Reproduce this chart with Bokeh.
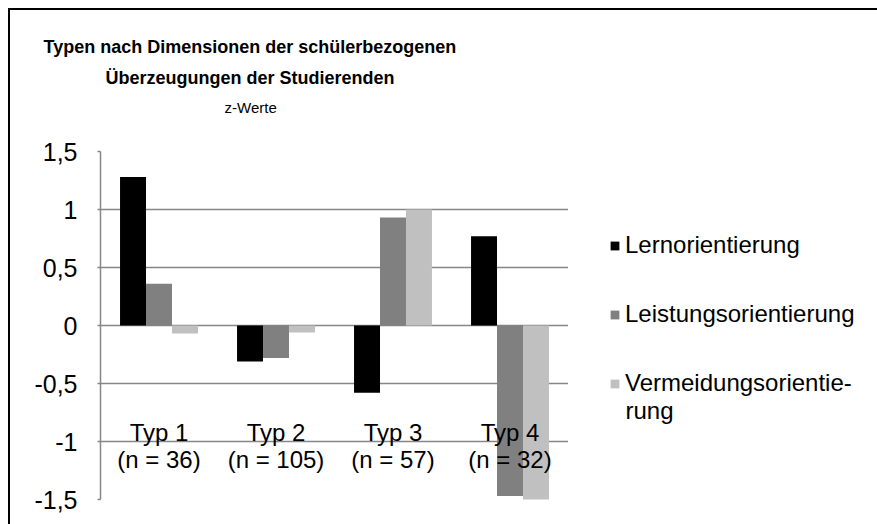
from bokeh.plotting import figure
from bokeh.layouts import row
from bokeh.models import (ColumnDataSource, FactorRange, Legend, LegendItem, Title, Label,
                          FixedTicker, Range1d)
from bokeh.transform import dodge
from bokeh.core.properties import value
from bokeh.embed import file_html
from bokeh.resources import INLINE

# ---- data ----
types = ["Typ 1", "Typ 2", "Typ 3", "Typ 4"]
n_labels = ["(n = 36)", "(n = 105)", "(n = 57)", "(n = 32)"]
lern = [1.28, -0.31, -0.58, 0.77]
leist = [0.36, -0.28, 0.93, -1.47]
verm = [-0.07, -0.06, 1.0, -1.52]
series_names = ["Lernorientierung", "Leistungsorientierung", "Vermeidungsorientie-"]
series_cont = "rung"
colors = ["#000000", "#808080", "#c0c0c0"]
y_ticks = [-1.5, -1, -0.5, 0, 0.5, 1, 1.5]
y_tick_labels = ["-1,5", "-1", "-0,5", "0", "0,5", "1", "1,5"]
title_lines = ["Typen nach Dimensionen der schülerbezogenen", "Überzeugungen der Studierenden"]
subtitle = "z-Werte"

FONT = "Liberation Sans"

src = ColumnDataSource(dict(types=types, n=n_labels, lern=lern, leist=leist, verm=verm))

H = 514
p = figure(x_range=FactorRange(*types, range_padding=0), y_range=Range1d(-1.5, 1.5),
           width=558, height=H, output_backend="svg", toolbar_location=None,
           min_border_left=90, min_border_right=0, min_border_top=141, min_border_bottom=25)
p.outline_line_color = None
p.background_fill_color = "white"
p.border_fill_color = "white"

bw = 0.222
for col, off, c in zip(["lern", "leist", "verm"], [-bw, 0, bw], colors):
    p.vbar(x=dodge("types", off, range=p.x_range), top=col, bottom=0, width=bw,
           source=src, fill_color=c, line_color=None)

# category labels inside the plot
p.text(x="types", y=-0.92, text="types", source=src, text_align="center",
       text_baseline="alphabetic", text_font=value(FONT), text_font_size="24px", text_color="black")
p.text(x="types", y=-1.155, text="n", source=src, text_align="center",
       text_baseline="alphabetic", text_font=value(FONT), text_font_size="24px", text_color="black")

p.xaxis.visible = False
p.xgrid.visible = False
p.ygrid.ticker = FixedTicker(ticks=y_ticks)
p.ygrid.grid_line_color = "#868686"
p.ygrid.grid_line_width = 1.5

ax = p.yaxis[0]
ax.ticker = FixedTicker(ticks=y_ticks)
ax.major_label_overrides = {t: l for t, l in zip(y_ticks, y_tick_labels)}
ax.major_label_text_font = FONT
ax.major_label_text_font_size = "25px"
ax.major_label_text_color = "black"
ax.axis_line_color = "#868686"
ax.axis_line_width = 1.5
ax.major_tick_line_color = "#868686"
ax.major_tick_line_width = 1.5
ax.major_tick_out = 3
ax.major_tick_in = 0
ax.minor_tick_line_color = None
ax.major_label_standoff = 20

# titles: added titles stack from the frame outward, p.title is outermost
p.title.text = title_lines[0]
p.title.align = "left"
p.title.offset = -57
p.title.text_font = FONT
p.title.text_font_size = "18px"
p.title.text_font_style = "bold"
p.title.text_color = "black"
p.title.standoff = 0
p.add_layout(Title(text=" ", align="left", text_font=FONT, text_font_size="10px",
                   text_color="white", standoff=23), "above")
p.add_layout(Title(text=subtitle, align="left", offset=124, text_font=FONT, text_font_size="15px",
                   text_font_style="normal", text_color="black", standoff=0), "above")
p.add_layout(Title(text=title_lines[1], align="left", offset=5, text_font=FONT,
                   text_font_size="18px", text_font_style="bold", text_color="black", standoff=18), "above")

# legend figure (frames of a row are aligned, so screen y counts from the chart's bottom line)
q = figure(width=309, height=H, output_backend="svg", toolbar_location=None,
           x_range=Range1d(0, 309), y_range=Range1d(0, H),
           x_axis_location=None, y_axis_location=None,
           min_border_left=0, min_border_right=0, min_border_top=0, min_border_bottom=0)
q.outline_line_color = None
q.grid.visible = False
q.background_fill_color = "white"
q.border_fill_color = "white"
dummies = [q.vbar(x=[0], top=[0], bottom=[0], width=0, fill_color=c, line_color=None) for c in colors]
legend = Legend(items=[LegendItem(label=n, renderers=[r]) for n, r in zip(series_names, dummies)],
                location=(41, 102), orientation="vertical", padding=0, margin=0,
                glyph_width=11, glyph_height=11, label_standoff=5, spacing=41, label_height=28,
                label_text_font=FONT, label_text_font_size="24px", label_text_color="black",
                border_line_color=None, background_fill_alpha=0)
q.add_layout(legend, "center")
q.add_layout(Label(x=57, y=89, x_units="screen", y_units="screen", text=series_cont,
                   text_baseline="middle", text_align="left", text_font=FONT,
                   text_font_size="24px", text_color="black"))

lay = row(p, q, spacing=0, styles={"margin-left": "8px", "margin-top": "8px",
                                  "border-top": "2px solid black", "border-left": "2px solid black"})

open("out.html", "w").write(file_html(lay, INLINE))
